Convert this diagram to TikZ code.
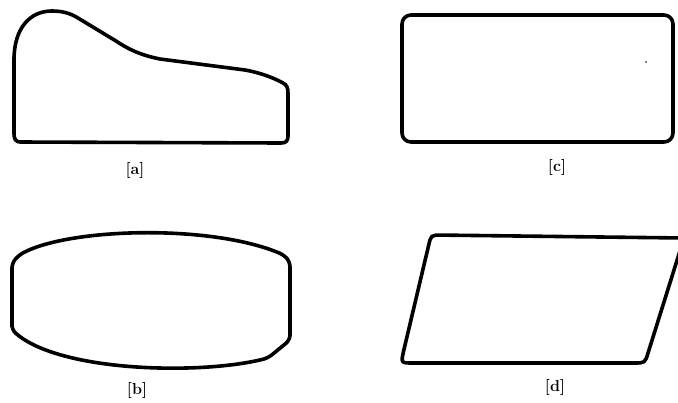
\documentclass[tikz,border=0pt]{standalone}
\usepackage{fontspec}
\begin{document}
\begin{tikzpicture}[x=1pt,y=-1pt,
  outline/.style={draw=black,line width=3.6pt,line join=round,line cap=round},
  lab/.style={font=\fontsize{16}{18}\selectfont\bfseries,inner sep=0pt}]
\useasboundingbox (0,0) rectangle (678,402);
% (a)
\draw[outline] (14,134) -- (14,60)
  .. controls (14,28) and (30,11) .. (52,11)
  .. controls (62,11) and (70,13) .. (78,18)
  -- (116,41)
  .. controls (128,49) and (140,55) .. (160,59)
  -- (245,70)
  .. controls (262,73) and (276,79) .. (283,83)
  .. controls (287,85) and (288,88) .. (288,93)
  -- (288,136)
  .. controls (288,141) and (286,143) .. (281,143)
  -- (20,142)
  .. controls (16,142) and (14,139) .. (14,134) -- cycle;
\node[lab] (la) at (135,170) {[a]};
% (c)
\draw[outline,rounded corners=9] (402,15) rectangle (673,142);
\fill (646,62) circle (0.9);
\node[lab] (lc) at (557,167) {[c]};
% (b)
\draw[outline,rounded corners=5] (12,330) -- (12,263) -- (19,255)
  .. controls (70,228) and (210,224) .. (284,255)
  -- (290,262) -- (290,340) -- (268,358)
  .. controls (200,375) and (60,372) .. (12,330) -- cycle;
\node[lab] (lb) at (137,390) {[b]};
% (d)
\draw[outline] (684,238) -- (442,235.1)
  .. controls (431,235) .. (428.6,245.5)
  -- (403.5,351.5)
  .. controls (401,363) .. (413,363)
  -- (634,363)
  .. controls (645,363) .. (648.2,352.5)
  -- (684,238);
\node[lab] (ld) at (555,387) {[d]};
\end{tikzpicture}
\end{document}
